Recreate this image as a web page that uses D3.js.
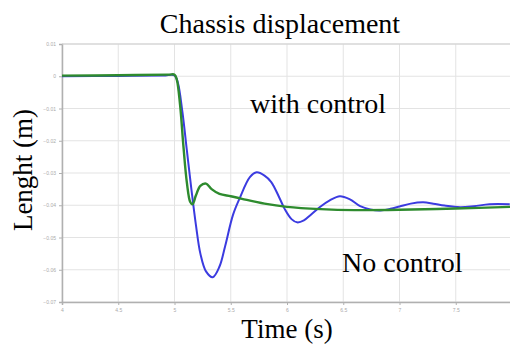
<!DOCTYPE html>
<html>
<head>
<meta charset="utf-8">
<script src="https://cdn.jsdelivr.net/npm/d3@7"></script>
<style>
  body { margin: 0; background: #fff; }
  svg { display: block; }
</style>
</head>
<body>
<script>
var W = 510, H = 347;

// tick values
var xTicks = [4, 4.5, 5, 5.5, 6, 6.5, 7, 7.5];
var yTicks = [0.01, 0, -0.01, -0.02, -0.03, -0.04, -0.05, -0.06, -0.07];

// no control (blue)
var noControlT = [4.0, 4.5, 4.9, 5.0, 5.03, 5.07, 5.11, 5.15, 5.19, 5.23, 5.28, 5.34, 5.40, 5.45, 5.52, 5.58, 5.67, 5.73, 5.80, 5.86, 5.93, 5.98, 6.04, 6.09, 6.15, 6.21, 6.29, 6.38, 6.47, 6.56, 6.65, 6.74, 6.83, 6.92, 7.0, 7.1, 7.21, 7.30, 7.40, 7.54, 7.66, 7.80, 7.98];
var noControlV = [0.0, 0.0001, 0.0002, 0.0003, -0.002, -0.011, -0.023, -0.035, -0.046, -0.055, -0.0605, -0.0623, -0.059, -0.0527, -0.043, -0.0378, -0.0313, -0.0298, -0.0308, -0.0328, -0.0375, -0.0412, -0.0443, -0.0453, -0.0447, -0.0430, -0.0406, -0.0385, -0.0372, -0.0382, -0.0403, -0.0413, -0.0416, -0.0411, -0.0404, -0.0395, -0.0391, -0.0395, -0.0401, -0.0406, -0.0403, -0.0397, -0.0397];

// with control (green)
var withControlT = [4.0, 4.5, 4.95, 5.0, 5.02, 5.05, 5.08, 5.11, 5.14, 5.16, 5.19, 5.23, 5.28, 5.33, 5.40, 5.5, 5.6, 5.8, 6.0, 6.3, 6.6, 7.0, 7.5, 8.0];
var withControlV = [0.0002, 0.0003, 0.0005, 0.0005, -0.001, -0.009, -0.022, -0.033, -0.039, -0.0397, -0.037, -0.034, -0.0333, -0.0350, -0.0365, -0.0372, -0.0380, -0.0395, -0.0405, -0.0412, -0.0415, -0.0414, -0.0410, -0.0405];

var svg = d3.select("body").append("svg")
  .attr("width", W)
  .attr("height", H);

var x = d3.scaleLinear().domain([4, 8]).range([62, 512]);
var y = d3.scaleLinear().domain([-0.07, 0.01]).range([302, 44]);

// grid
svg.append("g").selectAll("line").data(xTicks).enter().append("line")
  .attr("x1", function(d){ return x(d); })
  .attr("x2", function(d){ return x(d); })
  .attr("y1", y(0.01))
  .attr("y2", y(-0.07))
  .attr("stroke", "#e3e3e3")
  .attr("stroke-width", 1);
svg.append("g").selectAll("line").data(yTicks).enter().append("line")
  .attr("x1", x(4))
  .attr("x2", x(8))
  .attr("y1", function(d){ return y(d); })
  .attr("y2", function(d){ return y(d); })
  .attr("stroke", "#e3e3e3")
  .attr("stroke-width", 1);

// axes
var xAxis = svg.append("g")
  .attr("transform", "translate(0," + y(-0.07) + ")")
  .call(d3.axisBottom(x).tickValues(xTicks).tickSize(3).tickFormat(d3.format("")));
var yAxis = svg.append("g")
  .attr("transform", "translate(" + x(4) + ",0)")
  .call(d3.axisLeft(y).tickValues(yTicks).tickSize(3).tickFormat(function(d){ return d === 0 ? "0" : d3.format(".2f")(d); }));
[xAxis, yAxis].forEach(function(a){
  a.select(".domain").attr("stroke", "#b0b0b0").attr("stroke-width", 1.5);
  a.selectAll(".tick line").attr("stroke", "#b0b0b0");
  a.selectAll(".tick text").attr("fill", "#aaa").style("font-size", "5px").style("font-family", "Liberation Sans, sans-serif");
});
// top border
svg.append("line")
  .attr("x1", x(4)).attr("x2", x(8))
  .attr("y1", y(0.01)).attr("y2", y(0.01))
  .attr("stroke", "#cfcfcf").attr("stroke-width", 1.2);

var line = d3.line()
  .x(function(d){ return x(d[0]); })
  .y(function(d){ return y(d[1]); })
  .curve(d3.curveCatmullRom.alpha(0.5));

svg.append("path")
  .datum(noControlT.map(function(t, i){ return [t, noControlV[i]]; }))
  .attr("d", line)
  .attr("fill", "none")
  .attr("stroke", "#3b3be0")
  .attr("stroke-width", 2);

svg.append("path")
  .datum(withControlT.map(function(t, i){ return [t, withControlV[i]]; }))
  .attr("d", line)
  .attr("fill", "none")
  .attr("stroke", "#2e8b2e")
  .attr("stroke-width", 2.4);

// texts
var serif = "Liberation Serif, Times New Roman, serif";
svg.append("text").attr("x", 280).attr("y", 33).attr("text-anchor", "middle")
  .style("font-family", serif).style("font-size", "28px").text("Chassis displacement");
svg.append("text").attr("x", 287).attr("y", 338).attr("text-anchor", "middle")
  .style("font-family", serif).style("font-size", "27px").text("Time (s)");
svg.append("text").attr("transform", "translate(32,170) rotate(-90)").attr("text-anchor", "middle")
  .style("font-family", serif).style("font-size", "27px").text("Lenght (m)");
svg.append("text").attr("x", 250).attr("y", 113)
  .style("font-family", serif).style("font-size", "28px").text("with control");
svg.append("text").attr("x", 342).attr("y", 272)
  .style("font-family", serif).style("font-size", "28px").text("No control");
</script>
</body>
</html>
